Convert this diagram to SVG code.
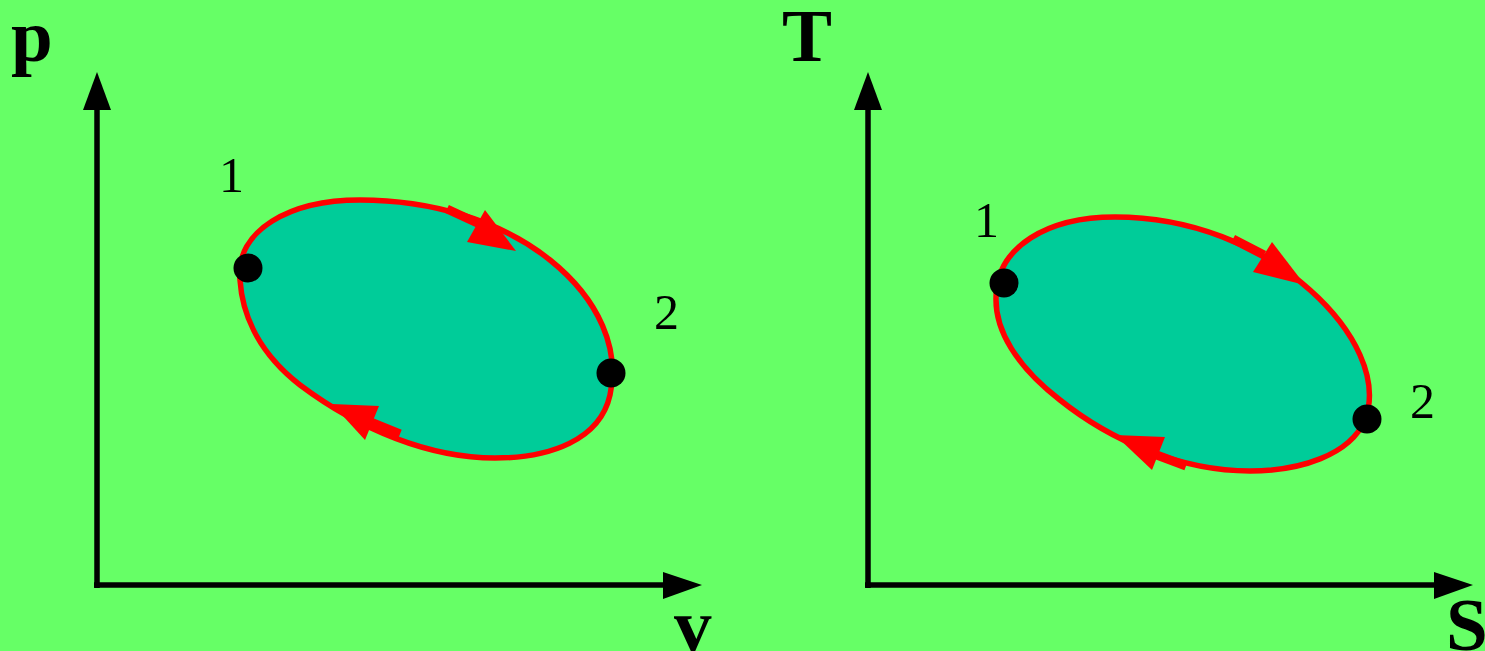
<svg xmlns="http://www.w3.org/2000/svg" width="1485" height="651" viewBox="0 0 1485 651">
<style>
.ax{stroke:#000;stroke-width:5.5;fill:none}
.ah{fill:#000}
.loop{fill:#00CC99;stroke:#FF0000;stroke-width:5.5}
.stem{stroke:#FF0000;stroke-width:9;stroke-linecap:butt}
.dir{fill:#FF0000}
.pt{fill:#000}
.lab{font-family:"Liberation Serif",serif;font-weight:bold;font-size:75px;fill:#000}
.num{font-family:"Liberation Serif",serif;font-size:50px;fill:#000}
</style>
<rect width="1485" height="651" fill="#66FF66"/>
<g id="connectors">
<g id="pv-axes">
<line class="ax" x1="97" y1="105" x2="97" y2="588"/>
<line class="ax" x1="94" y1="585" x2="668" y2="585"/>
<polygon class="ah" points="97,72 83,110 111,110"/>
<polygon class="ah" points="702,585 663,572 663,599"/>
</g>
<g id="ts-axes">
<line class="ax" x1="868" y1="105" x2="868" y2="588"/>
<line class="ax" x1="865" y1="585" x2="1439" y2="585"/>
<polygon class="ah" points="868,72 854,110 882,110"/>
<polygon class="ah" points="1473,585 1434,572 1434,599"/>
</g>
</g>
<g id="pv-cycle">
<path class="loop" d="M 240,280 C 235,230 290,200 360,200 C 430,200 500,220 550,260 C 600,300 620,350 610,395 C 600,440 550,458 495,458 C 430,458 360,430 300,385 C 255,350 242,310 240,280 Z"/>
<line class="stem" x1="447" y1="209" x2="486" y2="227"/>
<polygon class="dir" points="485,210 467,242 516,251"/>
<line class="stem" x1="400" y1="434" x2="368" y2="421"/>
<polygon class="dir" points="332,404 379,406 365,440"/>
</g>
<g id="ts-cycle">
<path class="loop" d="M 996,300 C 995,245 1050,217 1115,217 C 1190,217 1260,245 1310,290 C 1355,330 1380,380 1365,420 C 1350,455 1300,471 1250,471 C 1180,471 1110,440 1060,400 C 1015,365 996,330 996,300 Z"/>
<line class="stem" x1="1233" y1="239" x2="1264" y2="255"/>
<polygon class="dir" points="1272,242 1253,272 1305,285"/>
<line class="stem" x1="1186" y1="466" x2="1154" y2="454"/>
<polygon class="dir" points="1115,435 1165,437 1152,470"/>
</g>
<g id="pv-point1"><circle class="pt" cx="248" cy="268" r="14.5"/><text class="num" x="219" y="192">1</text></g>
<g id="pv-point2"><circle class="pt" cx="611" cy="373" r="14.5"/><text class="num" x="654" y="329">2</text></g>
<g id="ts-point1"><circle class="pt" cx="1004" cy="283" r="14.5"/><text class="num" x="974" y="237">1</text></g>
<g id="ts-point2"><circle class="pt" cx="1367" cy="419" r="14.5"/><text class="num" x="1410" y="418">2</text></g>
<g id="labels">
<text class="lab" x="11" y="61">p</text>
<text class="lab" x="674" y="650">v</text>
<text class="lab" x="782" y="61">T</text>
<text class="lab" x="1446" y="650">S</text>
</g>
</svg>
